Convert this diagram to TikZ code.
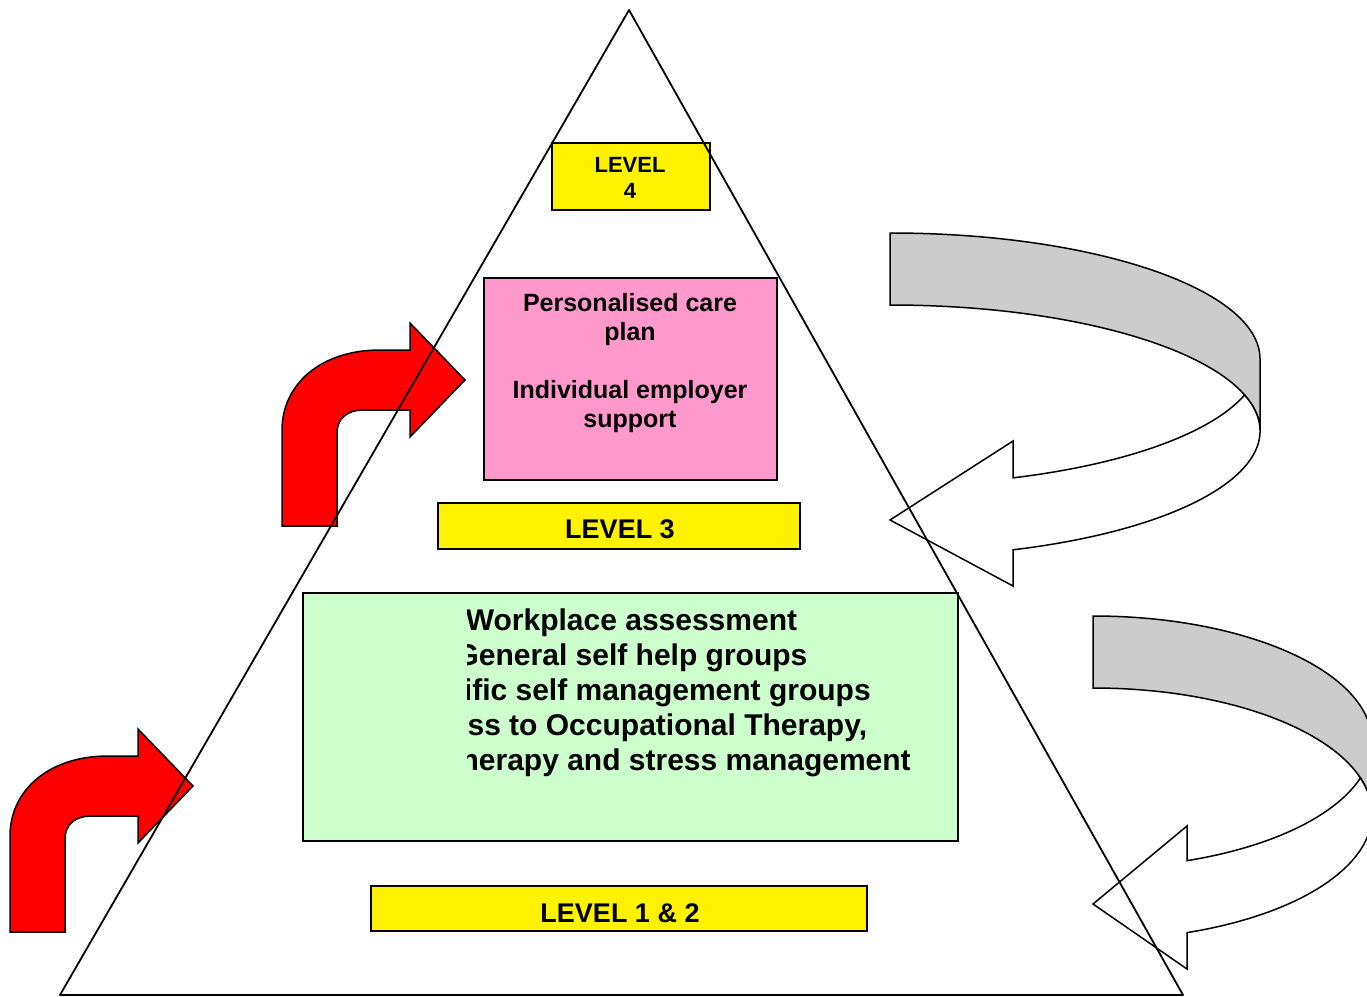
\documentclass[tikz,border=0pt]{standalone}
\usepackage{fontspec}
\setmainfont{Liberation Sans}
\definecolor{backgray}{HTML}{CCCCCC}
\definecolor{pinkfill}{HTML}{FF99CC}
\definecolor{greenfill}{HTML}{CCFFCC}
\begin{document}
\begin{tikzpicture}[x=1pt,y=-1pt,
  outline/.style={draw=black,line width=1.5pt,line join=miter},
  boxshape/.style={outline,inner sep=0pt,rectangle},
  lbl/.style={inner sep=0pt,font=\fontsize{27}{31}\selectfont\bfseries},
  bentarrow/.pic={
    \draw[outline,fill=red] (0,0) -- (0,-96)
      .. controls (0,-141) and (38,-176) .. (98,-176)
      -- (128,-176) -- (128,-203) -- (183,-146) -- (128,-89) -- (128,-116)
      -- (81,-116) .. controls (66,-116) and (55,-108) .. (55,-93)
      -- (55,0) -- cycle;
  }]
\useasboundingbox (0,0) rectangle (1367,996);
\clip (0,0) rectangle (1367,996);

% red bent arrows
\pic at (282,526) {bentarrow};
\pic at (10,932) {bentarrow};

% upper curved arrow
\draw[outline,fill=backgray] (890,233)
  arc[start angle=-90,end angle=0,x radius=370,y radius=126]
  -- (1260,431)
  arc[start angle=0,end angle=-90,x radius=370,y radius=126] -- cycle;
\draw[outline,fill=white] (1244.6,395.0)
  arc[start angle=16.6,end angle=70.58,x radius=370,y radius=126]
  -- (1013,441) -- (890,520) -- (1013,586) -- (1013,549.8)
  arc[start angle=70.58,end angle=-16.6,x radius=370,y radius=126] -- cycle;

% lower curved arrow
\draw[outline,fill=backgray] (1093,616)
  arc[start angle=-90,end angle=0,x radius=279,y radius=126]
  -- (1372,814)
  arc[start angle=0,end angle=-90,x radius=279,y radius=126] -- cycle;
\draw[outline,fill=white] (1360.4,778.0)
  arc[start angle=16.6,end angle=70.31,x radius=279,y radius=126]
  -- (1187,826) -- (1093,904) -- (1187,969) -- (1187,932.6)
  arc[start angle=70.31,end angle=-16.6,x radius=279,y radius=126] -- cycle;

% boxes
\node[boxshape,fill=yellow,minimum width=158,minimum height=67] (l4box) at (631,176.5) {};
\node[lbl,align=center,font=\fontsize{22}{26}\selectfont\bfseries] (l4text) at (630,178) {LEVEL\\4};

\node[boxshape,fill=pinkfill,minimum width=293,minimum height=202] (carebox) at (630.5,379) {};
\node[inner sep=0pt,align=center,font=\fontsize{25}{29.5}\selectfont\bfseries] (caretext) at (630,363)
  {Personalised care\\plan\\[28pt]Individual employer\\support};

\node[boxshape,fill=yellow,minimum width=362,minimum height=46] (l3box) at (619,526) {};
\node[lbl] (l3text) at (620,529) {LEVEL 3};

\node[boxshape,fill=greenfill,minimum width=655,minimum height=248] (wpbox) at (630.5,717) {};
\begin{scope}
  \clip (467,594) rectangle (957,840);
  \node[inner sep=0pt,align=center,font=\fontsize{30}{35}\selectfont\bfseries] (wptext) at (631.5,693)
    {Workplace assessment\\General self help groups\\Specific self management groups\\Access to Occupational Therapy,\\Physiotherapy and stress management};
\end{scope}

\node[boxshape,fill=yellow,minimum width=496,minimum height=45] (l12box) at (619,908.5) {};
\node[lbl] (l12text) at (620,913) {LEVEL 1 \& 2};

% pyramid
\draw[line width=1.8pt,line join=round] (629,10) -- (1183,995) -- (60,995) -- cycle;
\end{tikzpicture}
\end{document}
